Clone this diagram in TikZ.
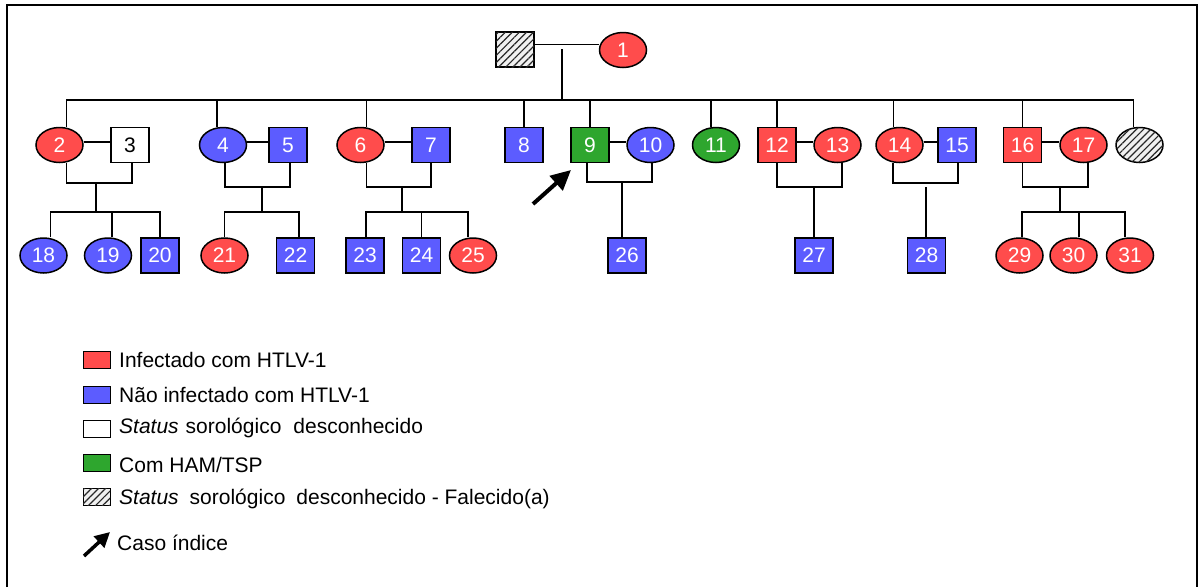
\documentclass[tikz,border=0pt]{standalone}
\usepackage{fontspec}
\setmainfont{Liberation Sans}
\usetikzlibrary{shapes.geometric,patterns.meta,arrows.meta,backgrounds}
\definecolor{infred}{HTML}{FF4C4C}
\definecolor{noblue}{HTML}{5C5CFF}
\definecolor{hamgreen}{HTML}{2EA62E}
\tikzset{
  base/.style={draw=black, line width=1.5pt, inner sep=0pt, text=white,
     font=\fontsize{21}{24}\selectfont},
  male/.style={base, rectangle, minimum width=38pt, minimum height=35pt},
  female/.style={base, ellipse, minimum width=47pt, minimum height=35pt},
  red/.style={fill=infred},
  blue/.style={fill=noblue},
  green/.style={fill=hamgreen},
  unk/.style={fill=white, text=black},
  dead/.style={fill=gray!12, postaction={pattern={Lines[angle=45,distance=5pt,line width=1.2pt]}, pattern color=black!85}},
  link/.style={draw=black, line width=1.9pt},
  legbox/.style={draw=black, line width=1pt, minimum width=27pt, minimum height=17pt, inner sep=0pt},
  legtxt/.style={anchor=west, inner sep=0pt, font=\fontsize{21}{24}\selectfont},
  idxarrow/.style={line width=4pt, -{Triangle[length=20pt,width=19pt]}},
}
\begin{document}
\begin{tikzpicture}[x=1pt,y=-1pt]
\useasboundingbox (0,0) rectangle (1199,587);
\draw[line width=1.6pt] (7,587) -- (7,5) -- (1197,5) -- (1197,587);

% generation I
\node[male,dead] (d1) at (515,49.5) {};
\node[female,red] (n1) at (623,50) {1};
% generation II
\node[female,red] (n2) at (59.5,145) {2};
\node[male,unk] (n3) at (130,145) {3};
\node[female,blue] (n4) at (223,145) {4};
\node[male,blue] (n5) at (288,145) {5};
\node[female,red] (n6) at (360.5,145) {6};
\node[male,blue] (n7) at (431,145) {7};
\node[male,blue] (n8) at (524,145) {8};
\node[male,green] (n9) at (590,145) {9};
\node[female,blue] (n10) at (650.5,145) {10};
\node[female,green] (n11) at (716,145) {11};
\node[male,red] (n12) at (777,145) {12};
\node[female,red] (n13) at (837.5,145) {13};
\node[female,red] (n14) at (899.5,145) {14};
\node[male,blue] (n15) at (957,145) {15};
\node[male,red] (n16) at (1022.5,145) {16};
\node[female,red] (n17) at (1083.5,145) {17};
\node[female,dead] (d2) at (1139.5,145) {};
% generation III
\node[female,blue] (n18) at (43.5,255.5) {18};
\node[female,blue] (n19) at (108,255.5) {19};
\node[male,blue] (n20) at (160,255.5) {20};
\node[female,red] (n21) at (224.5,255.5) {21};
\node[male,blue] (n22) at (295.5,255.5) {22};
\node[male,blue] (n23) at (365,255.5) {23};
\node[male,blue] (n24) at (421.5,255.5) {24};
\node[female,red] (n25) at (473,255.5) {25};
\node[male,blue] (n26) at (627,255.5) {26};
\node[male,blue] (n27) at (814,255.5) {27};
\node[male,blue] (n28) at (926.5,255.5) {28};
\node[female,red] (n29) at (1019.5,255.5) {29};
\node[female,red] (n30) at (1073.5,255.5) {30};
\node[female,red] (n31) at (1130,255.5) {31};

% junction coordinates
\coordinate (j1) at (562,49);
\coordinate (g1) at (562,100);
\coordinate (j23) at (96,183);
\coordinate (s23) at (96,212);
\coordinate (j45) at (262,187);
\coordinate (s45) at (262,212);
\coordinate (j67) at (402,187);
\coordinate (s67) at (402,212);
\coordinate (j910) at (622,182);
\coordinate (j1213) at (814,187);
\coordinate (j1415) at (926,183);
\coordinate (k1415) at (926,187);
\coordinate (j1617) at (1060,187);
\coordinate (s1617) at (1060,212);
\coordinate (ah) at (571,170);
\coordinate (at) at (533,204);

\begin{scope}[on background layer]
% couple I
\draw[link] ([yshift=5pt]d1.east) -- ([yshift=5pt]d1.east -| n1.west);
\draw[link] (j1) -- (g1);
% sibship II
\draw[link] ([xshift=7pt]n2.north) |- (g1) -| ([xshift=-6pt]d2.north);
\foreach \n/\s in {n4/-6, n6/6, n8/0, n9/0, n11/-5, n12/0, n14/-6, n16/0}
  \draw[link] ([xshift=\s pt]\n.north) -- ([xshift=\s pt]\n.north |- g1);
% marriages II
\draw[link] ([yshift=3pt]n2.east) -- ([yshift=3pt]n3.west);
\draw[link] ([yshift=3pt]n4.east) -- ([yshift=3pt]n5.west);
\draw[link] ([yshift=3pt]n6.east) -- ([yshift=3pt]n7.west);
\draw[link] ([yshift=3pt]n9.east) -- ([yshift=3pt]n10.west);
\draw[link] ([yshift=3pt]n12.east) -- ([yshift=3pt]n13.west);
\draw[link] ([yshift=3pt]n14.east) -- ([yshift=3pt]n15.west);
\draw[link] ([yshift=3pt]n16.east) -- ([yshift=3pt]n17.west);
% descent 2-3
\draw[link] ([xshift=7pt]n2.south) |- (j23) -| ([xshift=2pt]n3.south);
\draw[link] (j23) -- (s23);
\draw[link] ([xshift=7pt]n18.north) |- (s23) -| (n20.north);
\draw[link] ([xshift=4pt]n19.north) -- ([xshift=4pt]n19.north |- s23);
% descent 4-5
\draw[link] ([xshift=2pt]n4.south) |- (j45) -| ([xshift=2pt]n5.south);
\draw[link] (j45) -- (s45);
\draw[link] (n21.north) |- (s45) -| ([xshift=3.5pt]n22.north);
% descent 6-7
\draw[link] ([xshift=6pt]n6.south) |- (j67) -| (n7.south);
\draw[link] (j67) -- (s67);
\draw[link] ([xshift=1pt]n23.north) |- (s67) -| ([xshift=-5pt]n25.north);
\draw[link] (n24.north) -- (n24.north |- s67);
% descent 9-10
\draw[link] ([xshift=-3pt]n9.south) |- (j910) -| ([xshift=1.5pt]n10.south);
\draw[link] (j910) -- (j910 |- n26.north);
% descent 12-13
\draw[link] (n12.south) |- (j1213) -| ([xshift=4.5pt]n13.south);
\draw[link] (j1213) -- (n27.north);
% descent 14-15
\draw[link] ([xshift=-6.5pt]n14.south) |- (j1415) -| ([xshift=1pt]n15.south);
\draw[link] (k1415) -- (k1415 |- n28.north);
% descent 16-17
\draw[link] (n16.south) |- (j1617) -| ([xshift=4.5pt]n17.south);
\draw[link] (j1617) -- (s1617);
\draw[link] ([xshift=2.5pt]n29.north) |- (s1617) -| ([xshift=-5pt]n31.north);
\draw[link] ([xshift=5.5pt]n30.north) -- ([xshift=5.5pt]n30.north |- s1617);
\end{scope}

% index case arrow
\draw[idxarrow] (at) -- (ah);

% legend
\node[legbox,fill=infred] (l1) at (96.5,359.5) {};
\node[legtxt] (t1) at (119,359.5) {Infectado com HTLV-1};
\node[legbox,fill=noblue] (l2) at (96.5,394.5) {};
\node[legtxt] (t2) at (119,394.5) {Não infectado com HTLV-1};
\node[legbox,fill=white] (l3) at (96.5,429) {};
\node[legtxt] (t3) at (119,428) {\textit{Status}\hspace{7pt}sorológico\hspace{12pt}desconhecido};
\node[legbox,fill=hamgreen] (l4) at (96.5,462.5) {};
\node[legtxt] (t4) at (119,465) {Com HAM/TSP};
\node[legbox,dead] (l5) at (96.5,497) {};
\node[legtxt] (t5) at (119,499) {\textit{Status}\hspace{11pt}sorológico\hspace{11pt}desconhecido - Falecido(a)};
\coordinate (lat) at (84,556);
\coordinate (lah) at (110,532);
\draw[line width=3.5pt, -{Triangle[length=15pt,width=15pt]}] (lat) -- (lah);
\node[legtxt] (t6) at (117,543) {Caso índice};
\end{tikzpicture}
\end{document}
